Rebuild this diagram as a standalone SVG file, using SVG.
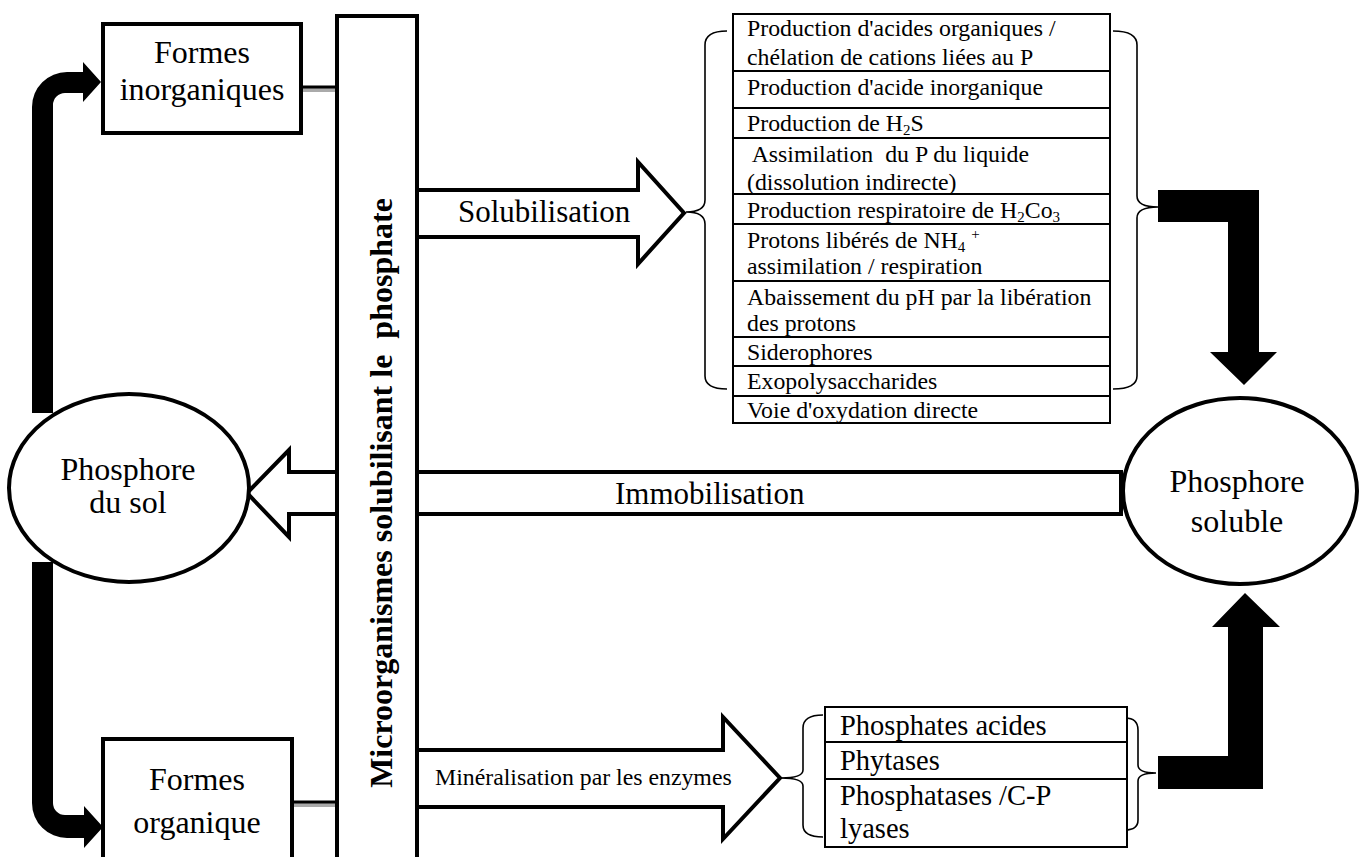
<svg xmlns="http://www.w3.org/2000/svg" width="1363" height="857" viewBox="0 0 1363 857">
<style>
  text { font-family: "Liberation Serif", "Times New Roman", serif; fill: #000; }
  .box { fill: #fff; stroke: #000; stroke-width: 4; }
  .ell { fill: #fff; stroke: #000; stroke-width: 4; }
  .blk { fill: #000; stroke: none; }
  .hollow { fill: #fff; stroke: #000; stroke-width: 4; stroke-linejoin: miter; }
  .list { fill: #fff; stroke: #000; stroke-width: 2; }
  .row { stroke: #000; stroke-width: 2; }
  .brace { fill: none; stroke: #000; stroke-width: 1.6; }
  .lt { font-size: 23.8px; }
  .lt2 { font-size: 28.5px; }
  .big { font-size: 32px; text-anchor: middle; }
  .sub { font-size: 15px; }
</style>
<defs>
  <clipPath id="immoClip"><rect x="560" y="470" width="300" height="34"/></clipPath>
</defs>
<rect x="0" y="0" width="1363" height="857" fill="#fff"/>

<g id="connectors">
  <!-- black curved arrows on the left -->
  <path class="blk" d="M32,413 L32,107 A35,35 0 0 1 67,72 L83,72 L83,62 L101,82 L83,102 L83,93 L65,93 A12,12 0 0 0 53,105 L53,413 Z"/>
  <path class="blk" d="M32,562 L32,803 A35,35 0 0 0 67,838 L84,838 L84,848 L103,827 L84,806 L84,815 L65,815 A12,12 0 0 1 53,803 L53,562 Z"/>
  <!-- box to column lines -->
  <line x1="302" y1="90" x2="336" y2="90" stroke="#aaa" stroke-width="4"/>
  <line x1="302" y1="87" x2="336" y2="87" stroke="#000" stroke-width="3"/>
  <line x1="293" y1="805" x2="336" y2="805" stroke="#aaa" stroke-width="4"/>
  <line x1="293" y1="802" x2="336" y2="802" stroke="#000" stroke-width="3"/>
  <!-- Immobilisation arrow -->
  <polygon class="hollow" points="247,493 289,450 289,472 1121,472 1121,514 289,514 289,537"/>
  <text x="615" y="504" font-size="31" clip-path="url(#immoClip)">Immobilisation</text>
  <!-- Solubilisation arrow -->
  <polygon class="hollow" points="410,190 638,190 638,162 684,213 638,264 638,237 410,237"/>
  <text x="458" y="222" font-size="31">Solubilisation</text>
  <!-- Mineralisation arrow -->
  <polygon class="hollow" points="410,750 723,750 723,717 780,778 723,839 723,807 410,807"/>
  <text x="435" y="785" font-size="23.8">Minéralisation par les enzymes</text>
  <!-- braces top list -->
  <path class="brace" d="M727,31 Q705,31 705,45 L705,200 Q705,212 686,212 Q705,212 705,224 L705,376 Q705,389 727,389"/>
  <path class="brace" d="M1113,31 Q1137,31 1137,45 L1137,196 Q1137,207 1158,207 Q1137,207 1137,218 L1137,376 Q1137,389 1113,389"/>
  <!-- braces bottom list -->
  <path class="brace" d="M823,715 Q803,715 803,728 L803,770 Q803,778 781,778 Q803,778 803,786 L803,825 Q803,837 823,837"/>
  <path class="brace" d="M1125,718 Q1138,718 1138,730 L1138,765 Q1138,773 1156,773 Q1138,773 1138,781 L1138,820 Q1138,830 1125,830"/>
  <!-- black L arrows on the right -->
  <polygon class="blk" points="1158,190 1259,190 1259,352 1277,352 1244,385 1210,352 1228,352 1228,222 1158,222"/>
  <polygon class="blk" points="1158,789 1263,789 1263,627 1280,627 1245,593 1212,627 1228,627 1228,756 1158,756"/>
</g>

<g id="formes-inorganiques">
  <rect class="box" x="103" y="24" width="198" height="109"/>
  <text class="big" x="202" y="63" font-size="29">Formes</text>
  <text class="big" x="202" y="100" font-size="29">inorganiques</text>
</g>

<g id="formes-organique">
  <rect class="box" x="103" y="739" width="189" height="140"/>
  <text class="big" x="197" y="790" font-size="29">Formes</text>
  <text class="big" x="197" y="833" font-size="29">organique</text>
</g>

<g id="microorganismes">
  <rect class="box" x="337" y="16" width="80" height="860"/>
  <text transform="translate(392,493) rotate(-90)" font-size="32" font-weight="bold" text-anchor="middle" xml:space="preserve">Microorganismes solubilisant le  phosphate</text>
</g>

<g id="phosphore-sol">
  <ellipse class="ell" cx="129" cy="488" rx="120" ry="94"/>
  <text class="big" x="128" y="480">Phosphore</text>
  <text class="big" x="128" y="513">du sol</text>
</g>

<g id="phosphore-soluble">
  <ellipse class="ell" cx="1240" cy="491" rx="117" ry="93"/>
  <text class="big" x="1237" y="492">Phosphore</text>
  <text class="big" x="1237" y="532">soluble</text>
</g>

<g id="solubilisation-list">
  <rect class="list" x="733" y="14" width="377" height="409"/>
  <line class="row" x1="733" y1="71" x2="1110" y2="71"/>
  <line class="row" x1="733" y1="108" x2="1110" y2="108"/>
  <line class="row" x1="733" y1="138" x2="1110" y2="138"/>
  <line class="row" x1="733" y1="194" x2="1110" y2="194"/>
  <line class="row" x1="733" y1="224" x2="1110" y2="224"/>
  <line class="row" x1="733" y1="281" x2="1110" y2="281"/>
  <line class="row" x1="733" y1="337" x2="1110" y2="337"/>
  <line class="row" x1="733" y1="366" x2="1110" y2="366"/>
  <line class="row" x1="733" y1="396" x2="1110" y2="396"/>
  <text class="lt" x="747" y="36">Production d'acides organiques /</text>
  <text class="lt" x="747" y="65">chélation de cations liées au P</text>
  <text class="lt" x="747" y="95">Production d'acide inorganique</text>
  <text class="lt" x="747" y="131">Production de H<tspan class="sub" dy="4">2</tspan><tspan dy="-4">S</tspan></text>
  <text class="lt" x="747" y="162" xml:space="preserve"> Assimilation  du P du liquide</text>
  <text class="lt" x="747" y="190">(dissolution indirecte)</text>
  <text class="lt" x="747" y="218">Production respiratoire de H<tspan class="sub" dy="4">2</tspan><tspan dy="-4">Co</tspan><tspan class="sub" dy="4">3</tspan></text>
  <text class="lt" x="747" y="248" xml:space="preserve">Protons libérés de NH<tspan class="sub" dy="4">4</tspan><tspan dy="-4"> </tspan><tspan class="sub" dy="-9">+</tspan></text>
  <text class="lt" x="747" y="274">assimilation / respiration</text>
  <text class="lt" x="747" y="305">Abaissement du pH par la libération</text>
  <text class="lt" x="747" y="331">des protons</text>
  <text class="lt" x="747" y="360">Siderophores</text>
  <text class="lt" x="747" y="389">Exopolysaccharides</text>
  <text class="lt" x="747" y="418">Voie d'oxydation directe</text>
</g>

<g id="enzymes-list">
  <rect class="list" x="825" y="707" width="302" height="140"/>
  <line class="row" x1="825" y1="742" x2="1127" y2="742"/>
  <line class="row" x1="825" y1="779" x2="1127" y2="779"/>
  <text class="lt2" x="840" y="735">Phosphates acides</text>
  <text class="lt2" x="840" y="770">Phytases</text>
  <text class="lt2" x="840" y="805">Phosphatases /C-P</text>
  <text class="lt2" x="840" y="838">lyases</text>
</g>
</svg>
